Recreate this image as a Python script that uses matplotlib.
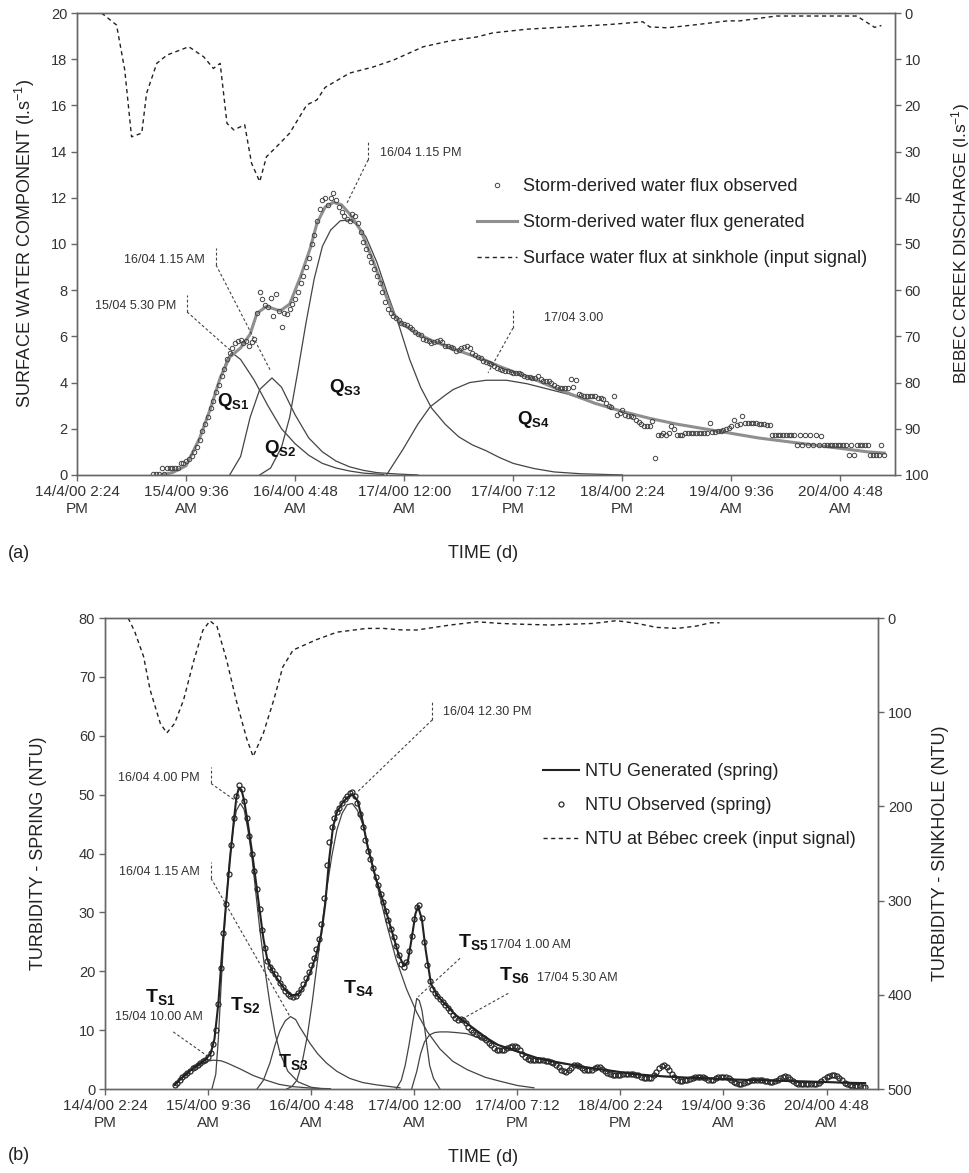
import numpy as np
import matplotlib.pyplot as plt

plt.rcParams['font.family'] = ['Liberation Sans', 'DejaVu Sans']
plt.rcParams['mathtext.fontset'] = 'custom'
plt.rcParams['mathtext.rm'] = 'Liberation Sans'
plt.rcParams['mathtext.it'] = 'Liberation Sans:italic'
plt.rcParams['mathtext.bf'] = 'Liberation Sans:bold'

# time axis in days since 14/4/00 2:24 PM
tick_days = [0, 0.8, 1.6, 2.4, 3.2, 4.0, 4.8, 5.6]
tick_labels = ['14/4/00 2:24\nPM', '15/4/00 9:36\nAM', '16/4/00 4:48\nAM',
               '17/4/00 12:00\nAM', '17/4/00 7:12\nPM', '18/4/00 2:24\nPM',
               '19/4/00 9:36\nAM', '20/4/00 4:48\nAM']

# ---- (a) storm-derived water flux ----
obs_a_start, obs_a_step = 0.56, 0.02
obs_a = [0.05, 0.05, 0.05, 0.3, 0.05, 0.3, 0.3, 0.3, 0.3, 0.3,
         0.5, 0.5, 0.6, 0.7, 0.8, 1.0, 1.2, 1.5, 1.9, 2.2,
         2.5, 2.9, 3.2, 3.6, 3.9, 4.3, 4.6, 5.0, 5.3, 5.5,
         5.7, 5.8, 5.85, 5.7, 5.8, 5.6, 5.75, 5.9, 7.0, 7.9,
         7.6, 7.35, 7.25, 7.65, 6.9, 7.85, 7.1, 6.4, 7.0, 6.95,
         7.2, 7.4, 7.6, 7.9, 8.3, 8.6, 9.0, 9.4, 10.0, 10.4,
         11.0, 11.5, 11.9, 12.0, 11.7, 12.0, 12.2, 11.9, 11.6, 11.4,
         11.2, 11.1, 11.0, 11.3, 11.2, 10.9, 10.5, 10.1, 9.8, 9.5,
         9.2, 8.9, 8.6, 8.3, 7.9, 7.5, 7.2, 7.0, 6.9, 6.8,
         6.7, 6.6, 6.55, 6.5, 6.4, 6.3, 6.2, 6.1, 6.05, 5.9,
         5.85, 5.8, 5.7, 5.75, 5.8, 5.85, 5.75, 5.6, 5.6, 5.55,
         5.5, 5.35, 5.4, 5.5, 5.55, 5.6, 5.5, 5.3, 5.2, 5.1,
         5.05, 4.95, 4.9, 4.85, 4.8, 4.7, 4.65, 4.6, 4.55, 4.5,
         4.5, 4.45, 4.4, 4.4, 4.4, 4.35, 4.3, 4.25, 4.25, 4.2,
         4.2, 4.3, 4.15, 4.05, 4.05, 4.05, 4.0, 3.9, 3.8, 3.75,
         3.75, 3.75, 3.75, 4.15, 3.8, 4.1, 3.5, 3.45, 3.4, 3.4,
         3.4, 3.4, 3.4, 3.35, 3.35, 3.3, 3.1, 3.0, 2.95, 3.4,
         2.6, 2.7, 2.8, 2.6, 2.55, 2.55, 2.5, 2.4, 2.3, 2.2,
         2.1, 2.1, 2.1, 2.35, 0.75, 1.75, 1.75, 1.8, 1.75, 1.8,
         2.1, 2.0, 1.75, 1.75, 1.75, 1.8, 1.8, 1.8, 1.8, 1.8,
         1.8, 1.8, 1.8, 1.8, 2.25, 1.85, 1.85, 1.9, 1.9, 1.95,
         2.0, 2.05, 2.1, 2.4, 2.15, 2.2, 2.55, 2.25, 2.25, 2.25,
         2.25, 2.25, 2.2, 2.2, 2.2, 2.15, 2.15, 1.72, 1.72, 1.72,
         1.72, 1.72, 1.72, 1.72, 1.72, 1.72, 1.3, 1.72, 1.3, 1.72,
         1.3, 1.72, 1.3, 1.72, 1.3, 1.7, 1.3, 1.3, 1.3, 1.3,
         1.3, 1.3, 1.3, 1.3, 1.3, 0.85, 1.3, 0.85, 1.3, 1.3,
         1.3, 1.3, 1.3, 0.85, 0.85, 0.85, 0.85, 1.3, 0.85]

gen_a_t = [0.62, 0.70, 0.80, 0.90, 0.98, 1.05, 1.12, 1.20, 1.27, 1.32, 1.39, 1.49,
           1.56, 1.64, 1.71, 1.76, 1.82, 1.88, 1.94, 2.00, 2.08, 2.17, 2.27, 2.32,
           2.37, 2.5, 2.61, 2.74, 2.86, 2.98, 3.1, 3.23, 3.35, 3.47, 3.6, 3.8,
           4.0, 4.2, 4.4, 4.6, 4.8, 5.0, 5.2, 5.4, 5.6, 5.8, 5.92]
gen_a = [0.0, 0.1, 0.4, 1.6, 2.9, 4.2, 5.1, 5.5, 6.1, 7.0, 7.3, 7.1,
         7.4, 8.6, 9.8, 10.9, 11.6, 11.8, 11.7, 11.3, 10.6, 9.3, 7.7, 7.0,
         6.6, 6.1, 5.8, 5.5, 5.25, 5.0, 4.7, 4.4, 4.15, 3.85, 3.55, 3.1,
         2.75, 2.45, 2.2, 2.0, 1.8, 1.6, 1.45, 1.3, 1.15, 1.0, 0.95]

qs1_t = [0.62, 0.70, 0.80, 0.90, 0.98, 1.05, 1.10, 1.135, 1.2, 1.3, 1.4, 1.5,
         1.6, 1.7, 1.8, 1.9, 2.0, 2.1, 2.25]
qs1 = [0.0, 0.1, 0.4, 1.6, 2.9, 4.2, 5.0, 5.3, 5.0, 4.1, 3.0, 2.0,
       1.35, 0.85, 0.5, 0.3, 0.17, 0.08, 0.02]
qs2_t = [1.12, 1.2, 1.27, 1.34, 1.43, 1.5, 1.55, 1.6, 1.7, 1.8, 1.9, 2.0,
         2.1, 2.2, 2.35, 2.5]
qs2 = [0.0, 0.8, 2.5, 3.7, 4.2, 3.8, 3.2, 2.6, 1.6, 1.0, 0.6, 0.35,
       0.2, 0.1, 0.04, 0.0]
qs3_t = [1.34, 1.42, 1.5, 1.56, 1.62, 1.68, 1.74, 1.8, 1.86, 1.93, 2.0, 2.06,
         2.12, 2.2, 2.28, 2.36, 2.44, 2.52, 2.6, 2.7, 2.8, 2.9, 3.0, 3.1,
         3.2, 3.35, 3.5, 3.7, 4.0]
qs3 = [0.0, 0.3, 1.2, 2.5, 4.5, 6.6, 8.5, 9.9, 10.6, 11.0, 11.05, 10.8,
       10.3, 9.2, 7.8, 6.5, 5.0, 3.8, 2.9, 2.2, 1.65, 1.3, 1.05, 0.75,
       0.5, 0.28, 0.13, 0.05, 0.0]
qs4_t = [2.27, 2.39, 2.5, 2.59, 2.7, 2.76, 2.88, 3.0, 3.15, 3.3, 3.5, 3.6,
         3.8, 4.0, 4.2, 4.4, 4.6, 4.8, 5.0, 5.2, 5.4, 5.6, 5.8, 5.92]
qs4 = [0.0, 1.1, 2.2, 2.95, 3.45, 3.7, 4.0, 4.1, 4.1, 3.95, 3.65, 3.5,
       3.1, 2.75, 2.45, 2.2, 2.0, 1.8, 1.6, 1.45, 1.3, 1.15, 1.0, 0.95]

sink_a_t = [0.18, 0.29, 0.35, 0.40, 0.475, 0.51, 0.585, 0.66, 0.82, 0.93, 1.0, 1.05,
            1.10, 1.15, 1.23, 1.28, 1.34, 1.39, 1.465, 1.56, 1.685, 1.76, 1.82, 2.0,
            2.17, 2.32, 2.54, 2.74, 2.93, 3.05, 3.3, 3.6, 3.9, 4.15, 4.2, 4.33,
            4.55, 4.77, 4.86, 5.13, 5.72, 5.85, 5.9]
sink_a = [0, 2.6, 12.3, 26.8, 26, 17.4, 10.9, 9.1, 7.3, 9.5, 12, 10.9,
          23.9, 25.3, 24.2, 32.5, 36.5, 31.1, 28.9, 26, 19.9, 18.8, 16.1, 13,
          11.7, 10.2, 7.3, 6.0, 5.2, 4.3, 3.5, 3.0, 2.5, 1.9, 3.0, 3.2,
          2.5, 1.7, 1.7, 0.65, 0.65, 3.1, 2.7]

# ---- (b) turbidity ----
obs_b_start, obs_b_step = 0.54, 0.02
obs_b = [0.7, 1.1, 1.5, 2.0, 2.4, 2.8, 3.1, 3.5, 3.8, 4.1,
         4.4, 4.7, 5.0, 5.4, 6.2, 7.6, 10.0, 14.5, 20.5, 26.5,
         31.5, 36.5, 41.5, 46.0, 49.8, 51.6, 51.0, 49.0, 46.0, 43.0,
         40.0, 37.0, 34.0, 30.5, 27.0, 24.0, 21.8, 20.8, 20.3, 19.6,
         18.8, 18.0, 17.3, 16.7, 16.2, 15.8, 15.6, 15.8, 16.3, 17.0,
         17.8, 18.8, 19.8, 21.0, 22.3, 23.8, 25.5, 28.0, 32.5, 38.0,
         42.0, 44.5, 46.0, 47.0, 47.8, 48.6, 49.2, 49.8, 50.3, 50.5,
         49.8, 48.5, 46.8, 44.5, 42.3, 40.5, 39.0, 37.5, 36.0, 34.6,
         33.2, 31.8, 30.2, 28.7, 27.2, 25.8, 24.3, 22.8, 21.3, 20.8,
         21.5, 23.5, 26.0, 28.8, 31.0, 31.2, 29.0, 25.0, 21.0, 18.3,
         17.0, 16.3, 15.8, 15.3, 14.8, 14.3, 13.8, 13.2, 12.6, 12.1,
         11.8, 11.9, 11.7, 11.2, 10.6, 10.1, 9.7, 9.4, 9.1, 8.9,
         8.7, 8.3, 7.8, 7.4, 7.0, 6.7, 6.6, 6.6, 6.7, 6.9,
         7.1, 7.3, 7.3, 7.1, 6.6, 6.0, 5.5, 5.1, 4.9, 4.9,
         4.9, 5.0, 5.0, 4.9, 4.8, 4.7, 4.6, 4.5, 4.1, 3.7,
         3.3, 3.0, 2.95, 3.2, 3.6, 4.0, 4.1, 3.9, 3.6, 3.3,
         3.2, 3.2, 3.3, 3.6, 3.8, 3.7, 3.4, 3.0, 2.7, 2.5,
         2.4, 2.4, 2.4, 2.4, 2.5, 2.5, 2.5, 2.5, 2.5, 2.4,
         2.3, 2.1, 1.9, 1.8, 1.8, 1.9, 2.3, 2.9, 3.5, 3.9,
         4.0, 3.8, 3.3, 2.6, 2.0, 1.6, 1.4, 1.4, 1.5, 1.6,
         1.7, 1.8, 2.0, 2.1, 2.1, 2.0, 1.8, 1.6, 1.5, 1.6,
         1.8, 2.0, 2.1, 2.1, 2.0, 1.8, 1.5, 1.2, 1.0, 0.9,
         0.9, 1.0, 1.2, 1.4, 1.5, 1.6, 1.6, 1.6, 1.5, 1.4,
         1.3, 1.2, 1.2, 1.3, 1.5, 1.8, 2.1, 2.2, 2.0, 1.7,
         1.3, 1.0, 0.9, 0.9, 0.9, 0.9, 0.9, 0.8, 0.8, 0.9,
         1.1, 1.4, 1.7, 2.0, 2.2, 2.4, 2.4, 2.2, 1.9, 1.5,
         1.1, 0.8, 0.6, 0.5, 0.5, 0.5, 0.5, 0.4, 0.4]

gen_b_t = [0.54, 0.6, 0.66, 0.72, 0.78, 0.82, 0.85, 0.88, 0.91, 0.94, 0.97, 1.0,
           1.02, 1.04, 1.06, 1.08, 1.11, 1.14, 1.17, 1.2, 1.23, 1.26, 1.3, 1.35,
           1.4, 1.45, 1.5, 1.55, 1.6, 1.64, 1.68, 1.71, 1.74, 1.77, 1.8, 1.84,
           1.88, 1.92, 1.96, 2.0, 2.04, 2.1, 2.16, 2.22, 2.28, 2.32, 2.35, 2.38,
           2.41, 2.43, 2.46, 2.49, 2.53, 2.58, 2.65, 2.72, 2.8, 2.88, 2.96, 3.05,
           3.2, 3.35, 3.5, 3.7, 3.9, 4.1, 4.3, 4.5, 4.7, 4.9, 5.1, 5.3,
           5.5, 5.7, 5.9]
gen_b = [0.7, 2.0, 3.1, 4.1, 5.0, 6.0, 8.5, 14.5, 23.5, 31.5, 39, 45.5,
         49.5, 51.2, 50.8, 49.0, 45, 40.5, 35.5, 30.5, 25.5, 22.0, 20.0, 18.3,
         16.8, 15.9, 16.1, 17.6, 20.2, 22.8, 26.5, 31.5, 39, 44.5, 47, 48.5,
         49.5, 50.1, 49.0, 45.5, 41, 36, 31.8, 27.3, 22.8, 20.9, 21.6, 25.5,
         29.8, 31.0, 28.8, 23.5, 17.9, 15.8, 14.2, 12.6, 11.3, 10.0, 8.7, 7.5,
         6.4, 5.3, 4.6, 3.8, 3.2, 2.55, 2.2, 1.95, 1.8, 1.6, 1.5, 1.35,
         1.25, 1.1, 1.0]

ts1_t = [0.54, 0.58, 0.63, 0.68, 0.74, 0.79, 0.84, 0.9, 0.95, 1.0, 1.05, 1.15,
         1.25, 1.35, 1.46, 1.6, 1.75]
ts1 = [0.7, 1.5, 2.6, 3.4, 4.2, 4.7, 4.9, 4.8, 4.4, 3.9, 3.4, 2.3,
       1.5, 0.8, 0.4, 0.15, 0.05]
ts2_t = [0.83, 0.86, 0.88, 0.90, 0.92, 0.94, 0.96, 0.98, 1.0, 1.02, 1.05, 1.08,
         1.11, 1.14, 1.17, 1.2, 1.24, 1.28, 1.32, 1.36, 1.42, 1.5, 1.6, 1.7]
ts2 = [0, 2.5, 8.5, 17, 25, 31.5, 37, 41.5, 45, 47.3, 48.5, 47.5,
       44, 39.5, 33.5, 27.5, 20.5, 14.5, 9.5, 6, 3, 1.2, 0.3, 0]
ts3_t = [1.18, 1.23, 1.28, 1.32, 1.36, 1.40, 1.44, 1.48, 1.51, 1.55, 1.59, 1.65,
         1.72, 1.8, 1.9, 2.0, 2.11, 2.29]
ts3 = [0, 1.5, 4.4, 7.5, 10.0, 11.6, 12.3, 11.8, 10.6, 9.2, 7.8, 6.0,
       4.4, 3.0, 1.8, 1.1, 0.7, 0.2]
ts4_t = [1.41, 1.45, 1.49, 1.53, 1.57, 1.61, 1.64, 1.68, 1.72, 1.76, 1.80, 1.84,
         1.88, 1.92, 1.96, 2.0, 2.06, 2.12, 2.18, 2.26, 2.34, 2.42, 2.5, 2.6,
         2.7, 2.81, 2.95, 3.07, 3.2, 3.33]
ts4 = [0, 0.4, 1.5, 4.5, 8.9, 15, 20.2, 27, 33.8, 39.5, 44, 46.8,
       48.3, 48.5, 47.3, 45, 39.5, 34, 28.5, 22, 17, 13, 9.8, 6.8,
       4.7, 3.3, 2.0, 1.3, 0.6, 0.2]
ts5_t = [2.26, 2.30, 2.33, 2.36, 2.39, 2.42, 2.44, 2.46, 2.48, 2.50, 2.52, 2.55, 2.6]
ts5 = [0, 1.5, 4.0, 7.5, 11.5, 15.4, 15.0, 13.4, 10.5, 7.2, 4.0, 1.8, 0]
ts6_t = [2.38, 2.42, 2.45, 2.48, 2.52, 2.56, 2.6, 2.66, 2.72, 2.81, 2.9, 3.0,
         3.07, 3.2, 3.35, 3.5, 3.7, 3.9, 4.1, 4.3, 4.5, 4.7, 4.9, 5.1,
         5.3, 5.5, 5.7, 5.9]
ts6 = [0, 3.0, 6.0, 8.0, 9.2, 9.6, 9.7, 9.7, 9.6, 9.4, 8.7, 7.9,
       7.3, 6.3, 5.2, 4.5, 3.8, 3.2, 2.5, 2.15, 1.95, 1.8, 1.6, 1.5,
       1.35, 1.25, 1.1, 1.0]

sink_b_t = [0.18, 0.23, 0.30, 0.35, 0.43, 0.48, 0.54, 0.61, 0.69, 0.76, 0.815, 0.87,
            0.945, 1.02, 1.10, 1.15, 1.23, 1.31, 1.38, 1.46, 1.64, 1.80, 2.03, 2.16,
            2.29, 2.42, 2.55, 2.68, 2.89, 3.07, 3.2, 3.45, 3.79, 3.97, 4.13, 4.28,
            4.44, 4.59, 4.7, 4.77]
sink_b = [0, 14, 41, 76, 112, 122, 112, 87, 45, 13, 3, 9,
          45, 88, 128, 147, 122, 87, 52, 34, 23, 15, 11, 11,
          12.5, 12.7, 10, 7.4, 4, 5.7, 6.4, 7.4, 5.7, 2.8, 5.7, 9.9,
          11, 8.5, 5, 5]

TXT = '#333333'
LINE = '#444444'
SPINE = '#666666'
DASH = (0, (3, 2.5))
LEAD = (0, (2.5, 2))


def style_axes(ax, ax2, ymax, ystep, rmax, rstep):
    ax.set_xlim(0, 6)
    ax.set_ylim(0, ymax)
    ax.set_yticks(np.arange(0, ymax + 0.01, ystep))
    ax2.set_ylim(rmax, 0)
    ax2.set_yticks(np.arange(0, rmax + 0.01, rstep))
    ax.set_xticks(tick_days)
    ax.set_xticklabels(tick_labels, linespacing=1.3)
    for a in (ax, ax2):
        for s in a.spines.values():
            s.set_color(SPINE)
            s.set_linewidth(1.0)
        a.tick_params(direction='out', length=4, width=1, color=SPINE,
                      labelsize=10.5, labelcolor=TXT, pad=3)
    ax.tick_params(axis='x', labelsize=11)


def callout(ax, xt, ylo, yhi, xe, ye):
    ax.plot([xt, xt], [ylo, yhi], ls=LEAD, color=LINE, lw=0.8)
    ax.plot([xt, xe], [ylo, ye], ls=LEAD, color=LINE, lw=0.8)


fig = plt.figure(figsize=(9.7, 11.73), dpi=100)

# ---------------- panel (a) ----------------
ax = fig.add_axes([0.0794, 0.5951, 0.8433, 0.3938])
ax2 = ax.twinx()
style_axes(ax, ax2, 20, 2, 100, 10)

for tt, vv in [(qs1_t, qs1), (qs2_t, qs2), (qs3_t, qs3), (qs4_t, qs4)]:
    ax.plot(tt, vv, color=LINE, lw=0.9)
h_gen, = ax.plot(gen_a_t, gen_a, color='#8f8f8f', lw=2.2)
t_obs_a = obs_a_start + obs_a_step * np.arange(len(obs_a))
h_obs, = ax.plot(t_obs_a, obs_a, ls='none', marker='o', ms=3.2, mfc='none',
                 mec='#444444', mew=0.7)
h_sink, = ax2.plot(sink_a_t, sink_a, ls=DASH, color='#222222', lw=1.0)

callout(ax, 2.135, 13.64, 14.42, 1.98, 11.77)
ax.text(2.22, 13.94, '16/04 1.15 PM', fontsize=9, color=TXT, va='center')
callout(ax, 1.02, 9.09, 9.83, 1.416, 4.55)
ax.text(0.94, 9.31, '16/04 1.15 AM', fontsize=9, color=TXT, va='center', ha='right')
callout(ax, 0.807, 7.06, 7.79, 1.122, 5.41)
ax.text(0.726, 7.32, '15/04 5.30 PM', fontsize=9, color=TXT, va='center', ha='right')
callout(ax, 3.198, 6.36, 7.23, 3.015, 4.42)
ax.text(3.426, 6.8, '17/04 3.00', fontsize=9, color=TXT, va='center')

for x, y, lab in [(1.144, 3.16, 'S1'), (1.489, 1.13, 'S2'), (1.966, 3.77, 'S3'), (3.345, 2.38, 'S4')]:
    ax.text(x, y, r'$\mathbf{Q}_{\mathbf{%s}}$' % lab, fontsize=13.5, color='#111111',
            ha='center', va='center')

ax.set_ylabel('SURFACE WATER COMPONENT (l.s$^{-1}$)', fontsize=13, color='#222222')
ax.yaxis.set_label_coords(-0.049, 0.5)
ax2.set_ylabel('BEBEC CREEK DISCHARGE (l.s$^{-1}$)', fontsize=12.5, color='#222222')
ax2.yaxis.set_label_coords(1.066, 0.5)

ax2.legend([h_obs, h_gen, h_sink],
           ['Storm-derived water flux observed', 'Storm-derived water flux generated',
            'Surface water flux at sinkhole (input signal)'],
           loc='upper left', bbox_to_anchor=(0.489, 0.643), frameon=False,
           fontsize=13, handlelength=2.2, handletextpad=0.35, labelspacing=1.05,
           borderpad=0, borderaxespad=0, numpoints=1, labelcolor='#222222')

# ---------------- panel (b) ----------------
bx = fig.add_axes([0.1082, 0.0716, 0.797, 0.4015])
bx2 = bx.twinx()
style_axes(bx, bx2, 80, 10, 500, 100)

for tt, vv in [(ts1_t, ts1), (ts2_t, ts2), (ts3_t, ts3), (ts4_t, ts4), (ts5_t, ts5), (ts6_t, ts6)]:
    bx.plot(tt, vv, color=LINE, lw=0.9)
t_obs_b = obs_b_start + obs_b_step * np.arange(len(obs_b))
h_obs_b, = bx.plot(t_obs_b, obs_b, ls='none', marker='o', ms=3.6, mfc='none',
                   mec='#2a2a2a', mew=0.9)
h_gen_b, = bx.plot(gen_b_t, gen_b, color='#222222', lw=1.5)
h_sink_b, = bx2.plot(sink_b_t, sink_b, ls=DASH, color='#222222', lw=1.0)

callout(bx, 2.54, 62.7, 65.8, 1.956, 50.4)
bx.text(2.624, 64.0, '16/04 12.30 PM', fontsize=9, color=TXT, va='center')
callout(bx, 0.823, 51.9, 54.7, 1.032, 48.7)
bx.text(0.737, 52.8, '16/04 4.00 PM', fontsize=9, color=TXT, va='center', ha='right')
callout(bx, 0.823, 35.8, 38.6, 1.436, 12.3)
bx.text(0.737, 36.9, '16/04 1.15 AM', fontsize=9, color=TXT, va='center', ha='right')
bx.plot([0.53, 0.802], [9.7, 5.5], ls=LEAD, color=LINE, lw=0.8)
bx.text(0.419, 12.3, '15/04 10.00 AM', fontsize=9, color=TXT, va='center', ha='center')
bx.plot([2.756, 2.432], [22.2, 15.7], ls=LEAD, color=LINE, lw=0.8)
bx.text(2.988, 24.5, '17/04 1.00 AM', fontsize=9, color=TXT, va='center')
bx.plot([3.13, 2.756], [16.25, 11.7], ls=LEAD, color=LINE, lw=0.8)
bx.text(3.351, 18.8, '17/04 5.30 AM', fontsize=9, color=TXT, va='center')

for x, y, lab in [(0.427, 15.7, 'S1'), (1.087, 14.3, 'S2'), (1.462, 4.6, 'S3'),
                  (1.966, 17.1, 'S4'), (2.857, 25.0, 'S5'), (3.175, 19.4, 'S6')]:
    bx.text(x, y, r'$\mathbf{T}_{\mathbf{%s}}$' % lab, fontsize=14, color='#111111',
            ha='center', va='center')

bx.set_ylabel('TURBIDITY - SPRING (NTU)', fontsize=13, color='#222222')
bx.yaxis.set_label_coords(-0.075, 0.5)
bx2.set_ylabel('TURBIDITY - SINKHOLE (NTU)', fontsize=13, color='#222222')
bx2.yaxis.set_label_coords(1.07, 0.5)

bx2.legend([h_gen_b, h_obs_b, h_sink_b],
           ['NTU Generated (spring)', 'NTU Observed (spring)',
            'NTU at Bébec creek (input signal)'],
           loc='upper left', bbox_to_anchor=(0.567, 0.692), frameon=False,
           fontsize=13, handlelength=2.0, handletextpad=0.3, labelspacing=0.95,
           borderpad=0, borderaxespad=0, numpoints=1, labelcolor='#222222')

fig.text(8 / 970, 1 - 553 / 1173, '(a)', fontsize=13, color='#222222', va='center')
fig.text(483 / 970, 1 - 553 / 1173, 'TIME (d)', fontsize=13, color='#222222',
         va='center', ha='center')
fig.text(8 / 970, 1 - 1155 / 1173, '(b)', fontsize=13, color='#222222', va='center')
fig.text(483 / 970, 1 - 1157 / 1173, 'TIME (d)', fontsize=13, color='#222222',
         va='center', ha='center')

fig.savefig('out.png', dpi=100)
